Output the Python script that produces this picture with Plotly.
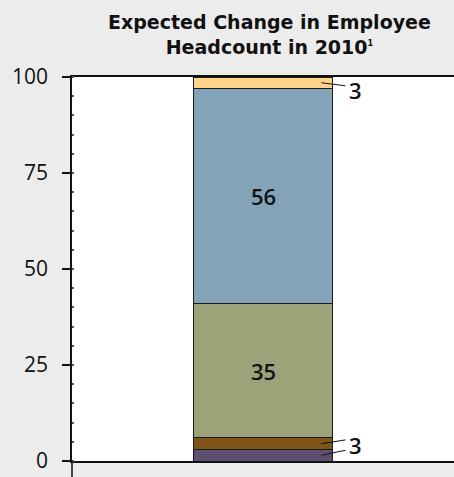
import plotly.graph_objects as go

# Share of respondents by expected change in headcount (bottom to top)
segments = ["Decrease significantly", "Decrease slightly", "Stay the same",
            "Increase slightly", "Increase significantly"]
shares = [3, 3, 35, 56, 3]
colors = ["#5e4f72", "#7e5419", "#9ea278", "#82a3b8", "#fed389"]
y_ticks = [0, 25, 50, 75, 100]
title_lines = ["Expected Change in Employee", "Headcount in 2010"]
footnote_mark = "1"

BAR_X = 0.5
BAR_W = 0.366
FONT = "Open Sans"
TITLE_FONT = "DejaVu Sans"

fig = go.Figure()
for name, val, col in zip(segments, shares, colors):
    fig.add_trace(go.Bar(
        x=[BAR_X], y=[val], name=name, width=BAR_W,
        marker=dict(color=col, line=dict(color="#1a1a1a", width=1)),
        hoverinfo="name+y",
    ))

# cumulative bounds of each segment
bottoms, tops = [], []
acc = 0
for v in shares:
    bottoms.append(acc)
    acc += v
    tops.append(acc)
mids = [(b + t) / 2 for b, t in zip(bottoms, tops)]

annotations = []
shapes = []
# large segments: centred labels
for i in (2, 3):
    annotations.append(dict(
        x=BAR_X, y=mids[i], xref="x", yref="y", text=str(shares[i]),
        showarrow=False, font=dict(family=FONT, size=22, color="#111111", weight=600),
    ))

# thin segments: callout labels with leader lines
edge = BAR_X + BAR_W / 2
x_in, x_out, x_txt = edge - 0.03, edge + 0.033, edge + 0.058
callouts = [(4, [(mids[4], mids[4] - 0.8)], mids[4] - 1.9),
            (1, [(mids[1], mids[1] + 1.0), (mids[0], mids[0] + 1.3)], mids[1] - 0.4)]
for idx, lines, ty in callouts:
    for y0, y1 in lines:
        shapes.append(dict(type="line", xref="x", yref="y", x0=x_in, y0=y0,
                           x1=x_out, y1=y1, line=dict(color="#111111", width=1)))
    annotations.append(dict(
        x=x_txt, y=ty, xref="x", yref="y", text=str(shares[idx]),
        showarrow=False, xanchor="center",
        font=dict(family=FONT, size=22, color="#111111", weight=600),
    ))

# two-line bold heading above the plot area
annotations.append(dict(
    x=0.516, y=1, xref="paper", yref="paper", xanchor="center", yanchor="bottom",
    yshift=17, showarrow=False, align="center",
    text="<b>" + title_lines[0] + "<br>" + title_lines[1]
         + "<sup><span style='font-size:8px'>" + footnote_mark + "</span></sup></b>",
    font=dict(family=TITLE_FONT, size=19, color="#111111"),
))

# y axis line continues a little below zero
shapes.append(dict(type="line", xref="paper", yref="paper", x0=0, x1=0,
                   y0=-0.06, y1=0, line=dict(color="#111111", width=1.5)))

fig.update_layout(
    width=454, height=477,
    margin=dict(l=72, r=0, t=77, b=16),
    paper_bgcolor="#ececec", plot_bgcolor="#ffffff",
    barmode="stack", showlegend=False,
    xaxis=dict(range=[0, 1], showticklabels=False, ticks="", showgrid=False,
               zeroline=False, showline=True, linecolor="#111111", linewidth=1.5,
               mirror=True, fixedrange=True),
    yaxis=dict(range=[0, 100], tickvals=y_ticks, ticks="outside", ticklen=8,
               tickcolor="#111111", tickwidth=1.5, showgrid=False, zeroline=False,
               showline=True, linecolor="#111111", linewidth=1.5,
               ticklabelstandoff=10,
               tickfont=dict(family=FONT, size=21, color="#111111"),
               minor=dict(dtick=5, ticks="inside", ticklen=2, tickcolor="#555555"),
               fixedrange=True),
    annotations=annotations, shapes=shapes,
)

fig.write_html("out.html", config={"displayModeBar": False})
